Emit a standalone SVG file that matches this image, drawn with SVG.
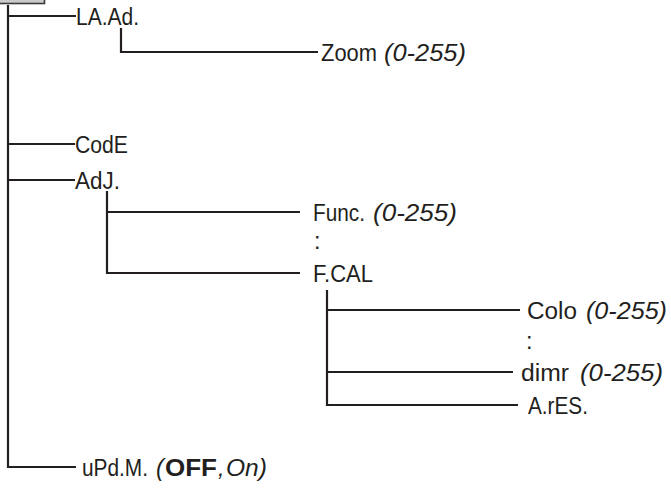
<svg xmlns="http://www.w3.org/2000/svg" width="671" height="488" viewBox="0 0 671 488">
<style>
.ln{stroke:#231f20;stroke-width:2.2;fill:none}
text{font-family:"Liberation Sans",Arial,sans-serif;font-size:23.5px;fill:#231f20}
.it{font-style:italic}
.b{font-weight:bold}
</style>
<rect x="-3" y="-3" width="47.5" height="6.5" fill="#cacaca" stroke="#3a3a3a" stroke-width="1.6"/>
<g id="connectors">
<path class="ln" d="M8 5V467H76"/>
<path class="ln" d="M8 16H76"/>
<path class="ln" d="M121 28V52H318"/>
<path class="ln" d="M8 144H75"/>
<path class="ln" d="M8 180H75"/>
<path class="ln" d="M107 191V273H300M107 212H300"/>
<path class="ln" d="M327 290V405H518M327 310H520M327 372H513"/>
</g>
<g id="n-laad"><text x="76" y="25" textLength="63" lengthAdjust="spacingAndGlyphs">LA.Ad.</text></g>
<g id="n-zoom"><text x="321" y="61" textLength="56" lengthAdjust="spacingAndGlyphs">Zoom</text><text class="it" x="384" y="61" textLength="82" lengthAdjust="spacingAndGlyphs">(0-255)</text></g>
<g id="n-code"><text x="75" y="153" textLength="53" lengthAdjust="spacingAndGlyphs">CodE</text></g>
<g id="n-adj"><text x="75" y="189" textLength="45" lengthAdjust="spacingAndGlyphs">AdJ.</text></g>
<g id="n-func"><text x="313" y="221" textLength="52" lengthAdjust="spacingAndGlyphs">Func.</text><text class="it" x="373" y="221" textLength="84" lengthAdjust="spacingAndGlyphs">(0-255)</text></g>
<g id="n-dots1"><text x="314" y="249">:</text></g>
<g id="n-fcal"><text x="313" y="282" textLength="60" lengthAdjust="spacingAndGlyphs">F.CAL</text></g>
<g id="n-colo"><text x="527" y="319" textLength="50" lengthAdjust="spacingAndGlyphs">Colo</text><text class="it" x="586" y="319" textLength="81" lengthAdjust="spacingAndGlyphs">(0-255)</text></g>
<g id="n-dots2"><text x="526" y="349">:</text></g>
<g id="n-dimr"><text x="521" y="381" textLength="48" lengthAdjust="spacingAndGlyphs">dimr</text><text class="it" x="580" y="381" textLength="83" lengthAdjust="spacingAndGlyphs">(0-255)</text></g>
<g id="n-ares"><text x="528" y="414" textLength="60" lengthAdjust="spacingAndGlyphs">A.rES.</text></g>
<g id="n-updm"><text x="82" y="476" textLength="66" lengthAdjust="spacingAndGlyphs">uPd.M.</text><text class="it" x="156" y="476">(</text><text class="b" x="165" y="476" textLength="52" lengthAdjust="spacingAndGlyphs">OFF</text><text class="it" x="218" y="476">,</text><text class="it" x="226" y="476" textLength="41" lengthAdjust="spacingAndGlyphs">On)</text></g>
</svg>
